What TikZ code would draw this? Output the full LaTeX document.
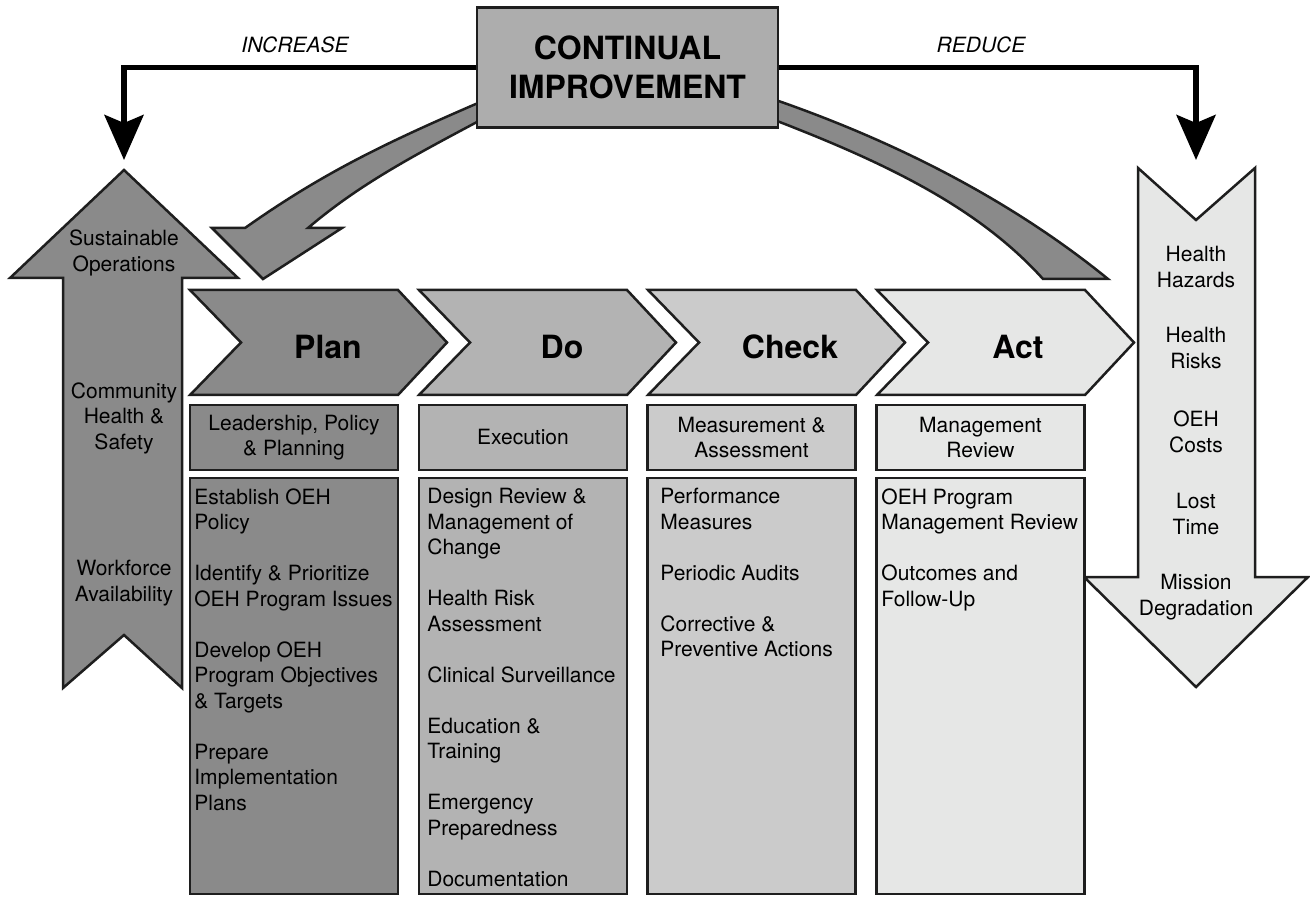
\documentclass[tikz,border=0pt]{standalone}
\usepackage{fontspec}
\setmainfont{TeX Gyre Heros}
\usetikzlibrary{arrows.meta, positioning, calc}
\definecolor{PlanGray}{HTML}{8A8A8A}
\definecolor{DoGray}{HTML}{B3B3B3}
\definecolor{CheckGray}{HTML}{CBCBCB}
\definecolor{ActGray}{HTML}{E6E7E6}
\definecolor{HubGray}{HTML}{ADADAD}
\definecolor{EdgeGray}{HTML}{1E1E1E}
\tikzset{
  outline/.style={draw=EdgeGray, line width=1.25pt, line join=miter},
  hubbox/.style={outline, fill=HubGray, minimum width=150.5pt, minimum height=60pt, inner sep=0pt, align=center, font=\fontsize{16}{19.5}\selectfont\bfseries},
  phasetag/.style={inner sep=0pt, font=\fontsize{16}{19}\selectfont\bfseries},
  headbox/.style={outline, minimum width=104pt, minimum height=32.5pt, inner sep=0pt, align=center, font=\fontsize{10.5}{12.75}\selectfont},
  listbox/.style={outline, minimum width=104pt, minimum height=208pt, inner sep=0pt},
  listtext/.style={anchor=north west, inner sep=0pt, align=left, font=\fontsize{10.5}{12.75}\selectfont},
  sidetag/.style={inner sep=0pt, align=center, font=\fontsize{10.5}{12.75}\selectfont},
  flowtag/.style={inner sep=0pt, font=\fontsize{10.5}{12.75}\selectfont\itshape},
  flow/.style={-{Stealth[length=22.5pt, width=19.5pt, inset=4pt]}, line width=2.8pt, draw=black}
}

\begin{document}
\begin{tikzpicture}[x=0.5pt, y=-0.5pt]
\useasboundingbox (0,0) rectangle (1310,897);

% curved feedback bands, tucked under the hub box
\draw[outline, fill=PlanGray] (492,97) .. controls (392,140) and (327,170) .. (245,228)
  -- (212,228) -- (263,279) -- (342,228) -- (308,228)
  .. controls (362,182) and (419,153) .. (492,114) -- cycle;
\draw[outline, fill=PlanGray] (764,96) .. controls (909,145) and (1022,209) .. (1108,279)
  -- (1043,279) .. controls (978,207) and (885,162) .. (764,116) -- cycle;

% hub
\node[hubbox] (ci) at (627.5,67.5) {CONTINUAL\\IMPROVEMENT};

\coordinate (incTip) at (124,160);
\coordinate (redTip) at (1196,160);
\draw[flow] (ci.west) -| (incTip);
\draw[flow] (ci.east) -| (redTip);
\node[flowtag] (incLabel) at (295,45) {INCREASE};
\node[flowtag] (redLabel) at (981,45) {REDUCE};

% increase arrow (left)
\draw[outline, fill=PlanGray] (124,170) -- (238,278) -- (182,278) -- (182,688) -- (124,635)
  -- (63,688) -- (63,278) -- (10,278) -- cycle;
\node[sidetag] (sustain) at (124,253) {Sustainable\\Operations};
\node[sidetag] (community) at (124,418) {Community\\Health \&\\Safety};
\node[sidetag] (workforce) at (124,583) {Workforce\\Availability};

% reduce arrow (right)
\draw[outline, fill=ActGray] (1138,168) -- (1196,220) -- (1255,168) -- (1255,577) -- (1308,577)
  -- (1196,687) -- (1084,577) -- (1138,577) -- cycle;
\node[sidetag] (hazards) at (1196,267) {Health\\Hazards};
\node[sidetag] (risks) at (1196,348) {Health\\Risks};
\node[sidetag] (costs) at (1196,432) {OEH\\Costs};
\node[sidetag] (losttime) at (1196,514) {Lost\\Time};
\node[sidetag] (mission) at (1196,597) {Mission\\Degradation};

% PDCA chevrons
\draw[outline, fill=PlanGray] (190,290) -- (398,290) -- (447,342.5) -- (398,395) -- (190,395) -- (241,342.5) -- cycle;
\draw[outline, fill=DoGray] (419,290) -- (627,290) -- (676,342.5) -- (627,395) -- (419,395) -- (470,342.5) -- cycle;
\draw[outline, fill=CheckGray] (648,290) -- (856,290) -- (905,342.5) -- (856,395) -- (648,395) -- (699,342.5) -- cycle;
\draw[outline, fill=ActGray] (877,290) -- (1085,290) -- (1134,342.5) -- (1085,395) -- (877,395) -- (928,342.5) -- cycle;
\node[phasetag] (plan) at (328,347) {Plan};
\node[phasetag] (do) at (562,347) {Do};
\node[phasetag] (check) at (790,347) {Check};
\node[phasetag] (act) at (1018,347) {Act};

% stage headers
\node[headbox, fill=PlanGray] (planHead) at (294,437.5) {Leadership, Policy\\\& Planning};
\node[headbox, fill=DoGray] (doHead) at (523,437.5) {Execution};
\node[headbox, fill=CheckGray] (checkHead) at (751.5,437.5) {Measurement \&\\Assessment};
\node[headbox, fill=ActGray] (actHead) at (980.5,437.5) {Management\\Review};

% task lists
\node[listbox, fill=PlanGray] (planCol) at (294,686) {};
\node[listbox, fill=DoGray] (doCol) at (523,686) {};
\node[listbox, fill=CheckGray] (checkCol) at (751.5,686) {};
\node[listbox, fill=ActGray] (actCol) at (980.5,686) {};

\node[listtext] (planList) at (194,488) {Establish OEH\\Policy\\[12.75pt]
  Identify \& Prioritize\\OEH Program Issues\\[12.75pt]
  Develop OEH\\Program Objectives\\\& Targets\\[12.75pt]
  Prepare\\Implementation\\Plans};
\node[listtext] (doList) at (427,488) {Design Review \&\\Management of\\Change\\[12.75pt]
  Health Risk\\Assessment\\[12.75pt]
  Clinical Surveillance\\[12.75pt]
  Education \&\\Training\\[12.75pt]
  Emergency\\Preparedness\\[12.75pt]
  Documentation};
\node[listtext] (checkList) at (660,488) {Performance\\Measures\\[12.75pt]
  Periodic Audits\\[12.75pt]
  Corrective \&\\Preventive Actions};
\node[listtext] (actList) at (881,488) {OEH Program\\Management Review\\[12.75pt]
  Outcomes and\\Follow-Up};
\end{tikzpicture}
\end{document}
